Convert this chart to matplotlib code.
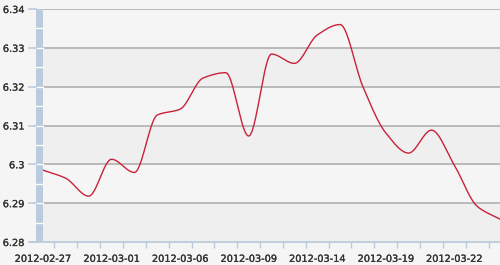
import numpy as np
import matplotlib
matplotlib.use("Agg")
import matplotlib.pyplot as plt
from matplotlib.patches import Rectangle
import matplotlib.transforms as mtransforms
import matplotlib.patheffects as pe

dates = ["2012-02-27", "2012-02-28", "2012-02-29", "2012-03-01", "2012-03-02",
         "2012-03-05", "2012-03-06", "2012-03-07", "2012-03-08", "2012-03-09",
         "2012-03-12", "2012-03-13", "2012-03-14", "2012-03-15", "2012-03-16",
         "2012-03-19", "2012-03-20", "2012-03-21", "2012-03-22", "2012-03-23",
         "2012-03-26"]
rates = [6.2985, 6.2964, 6.2918, 6.3013, 6.2979, 6.3127, 6.3142, 6.3222, 6.3236,
         6.3073, 6.3284, 6.3260, 6.3333, 6.3360, 6.3200, 6.3081, 6.3029, 6.3088,
         6.2998, 6.2892, 6.2859]
yticks = [6.28, 6.29, 6.30, 6.31, 6.32, 6.33, 6.34]
ytick_labels = ["6.28", "6.29", "6.3", "6.31", "6.32", "6.33", "6.34"]
label_every = 3


def monotone_curve(x, y, n=30):
    x = np.asarray(x, float); y = np.asarray(y, float)
    h = np.diff(x); d = np.diff(y) / h
    m = np.zeros_like(y)
    m[0] = d[0]; m[-1] = d[-1]
    for k in range(1, len(y) - 1):
        if d[k - 1] * d[k] <= 0:
            m[k] = 0
        else:
            w1 = 2 * h[k] + h[k - 1]; w2 = h[k] + 2 * h[k - 1]
            m[k] = (w1 + w2) / (w1 / d[k - 1] + w2 / d[k])
    xs, ys = [], []
    for k in range(len(h)):
        t = np.linspace(0, 1, n, endpoint=(k == len(h) - 1))
        h00 = 2 * t**3 - 3 * t**2 + 1; h10 = t**3 - 2 * t**2 + t
        h01 = -2 * t**3 + 3 * t**2; h11 = t**3 - t**2
        xs.append(x[k] + t * h[k])
        ys.append(h00 * y[k] + h10 * h[k] * m[k] + h01 * y[k + 1] + h11 * h[k] * m[k + 1])
    return np.concatenate(xs), np.concatenate(ys)


BG = "#f5f5f5"
BAND = "#efefef"
GRID = "#b5b5b5"
AXBLUE = "#b9cbdc"
TXT = "#333333"

fig = plt.figure(figsize=(5, 2.65), dpi=100, facecolor=BG)
ax = fig.add_axes([43 / 500, 23 / 265, 457 / 500, 233 / 265])
ax.set_facecolor(BG)

xidx = np.arange(len(dates))
ax.set_xlim(0, len(dates) - 1)
ax.set_ylim(yticks[0], yticks[-1])

# alternating bands
for i in range(len(yticks) - 1):
    if (len(yticks) - 2 - i) % 2 == 1:
        ax.axhspan(yticks[i], yticks[i + 1], color=BAND, lw=0, zorder=0)
for yv in yticks[1:]:
    ax.axhline(yv, color=GRID, lw=1.3, zorder=1)

xs, ys = monotone_curve(xidx, rates)
ax.plot(xs, ys, color="#c8223a", lw=1.0, zorder=3)

for s in ax.spines.values():
    s.set_visible(False)

# bottom axis line
trans_b = mtransforms.blended_transform_factory(ax.transAxes, ax.transData)
ax.plot([-13 / 457, 1.0], [yticks[0], yticks[0]], transform=trans_b,
        color=AXBLUE, lw=1.3, clip_on=False, zorder=4)

# left blue bar with white separators
ax.add_patch(Rectangle((-7 / 457, yticks[0]), 7 / 457, yticks[-1] - yticks[0],
                       transform=trans_b, facecolor=AXBLUE, edgecolor="none",
                       clip_on=False, zorder=4))
half = np.arange(yticks[0] + 0.005, yticks[-1], 0.005)
for yv in half:
    ax.plot([-7 / 457, 0], [yv, yv], transform=trans_b, color="white", lw=1.0,
            clip_on=False, zorder=5)
for yv in yticks:
    ax.plot([-14 / 457, -7 / 457], [yv, yv], transform=trans_b, color=AXBLUE,
            lw=1.2, clip_on=False, zorder=5)

effect = [pe.withStroke(linewidth=0.2, foreground=TXT)]

ax.set_yticks(yticks)
ax.set_yticklabels(ytick_labels)
ax.tick_params(axis="y", length=0, pad=13.5, labelsize=7, labelcolor=TXT)

# x ticks: minor marks between points, labels every 3
ax.set_xticks(xidx[::label_every])
ax.set_xticklabels([dates[i] for i in xidx[::label_every]])
ax.tick_params(axis="x", length=0, pad=8.5, labelsize=7, labelcolor=TXT)
ax.set_xticks(xidx[:-1] + 0.5, minor=True)
ax.tick_params(axis="x", which="minor", length=4, color=AXBLUE, width=1.0)

for lbl in ax.get_xticklabels() + ax.get_yticklabels():
    lbl.set_path_effects(effect)

fig.savefig("out.png", dpi=100, facecolor=BG)
